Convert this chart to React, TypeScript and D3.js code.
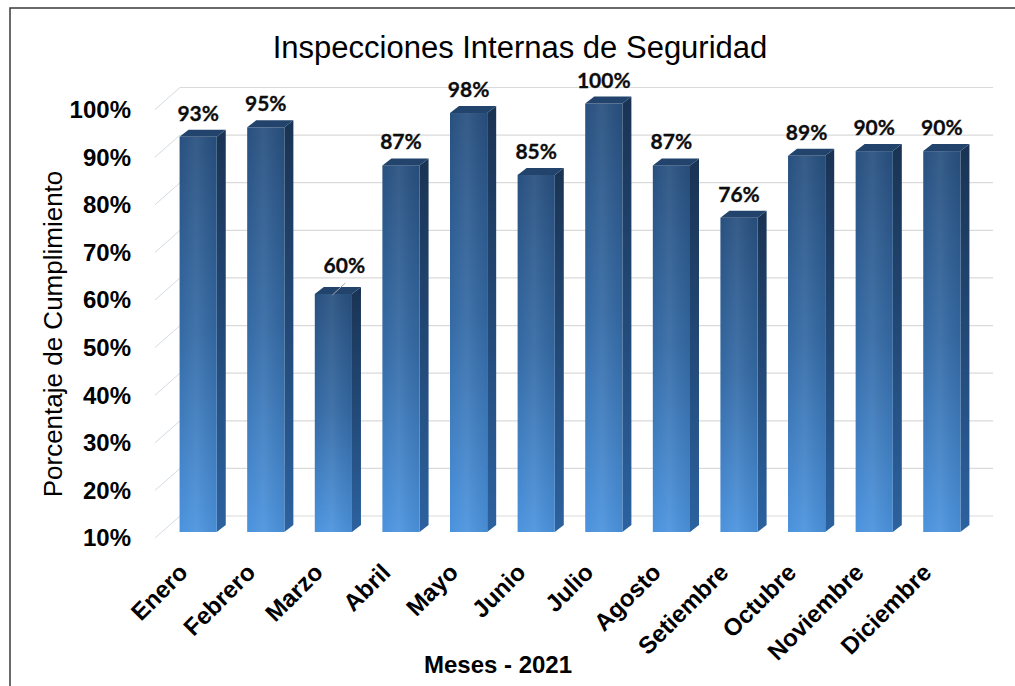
import React from "react";
import * as d3 from "d3";

const months = ["Enero","Febrero","Marzo","Abril","Mayo","Junio","Julio","Agosto","Setiembre","Octubre","Noviembre","Diciembre"];
const values = [93, 95, 60, 87, 98, 85, 100, 87, 76, 89, 90, 90];
const yTicks = [10, 20, 30, 40, 50, 60, 70, 80, 90, 100];
const leaderLabels = ["Marzo"];
const title = "Inspecciones Internas de Seguridad";
const yTitle = "Porcentaje de Cumplimiento";
const xTitle = "Meses - 2021";

const W = 1015, H = 686;
const ARIAL = "'Liberation Sans', Arial, sans-serif";
const BASE = 532;
const DX = 9, DY = -7;

export default function App() {
  const x = d3.scaleBand<string>().domain(months).range([162, 978]).paddingInner(0.45).paddingOuter(0.26);
  const y = d3.scaleLinear().domain([10, 100]).range([BASE, 103.5]);
  const bw = x.bandwidth();
  const fmt = (v: number) => `${v}%`;
  const gridFrontX = 155, gridBackX = 180, gridEndX = 993;

  return (
    <svg width={W} height={H} style={{ position: "absolute", left: 0, top: 0, background: "#fff" }}>
      <defs>
        <linearGradient id="front" x1="0" y1="0" x2="0" y2="1">
          <stop offset="0" stopColor="#28507f" />
          <stop offset="0.5" stopColor="#346aa5" />
          <stop offset="1" stopColor="#4b93de" />
        </linearGradient>
        <linearGradient id="shine" x1="0" y1="0" x2="1" y2="0">
          <stop offset="0" stopColor="#ffffff" stopOpacity="0" />
          <stop offset="0.45" stopColor="#ffffff" stopOpacity="0.07" />
          <stop offset="1" stopColor="#000000" stopOpacity="0.05" />
        </linearGradient>
        <linearGradient id="side" x1="0" y1="0" x2="0" y2="1">
          <stop offset="0" stopColor="#1a3353" />
          <stop offset="0.5" stopColor="#224977" />
          <stop offset="1" stopColor="#2c62a0" />
        </linearGradient>
      </defs>

      <path d={`M10,${H} V8 H${W}`} fill="none" stroke="#3a3a3a" strokeWidth={1.5} />

      {/* gridlines */}
      {yTicks.map((t) => (
        <g key={t}>
          <line x1={gridFrontX} y1={y(t) + 6} x2={gridBackX} y2={y(t) - 16} stroke="#d3dbe4" strokeWidth={1} />
          <line x1={gridBackX} y1={y(t) - 16} x2={gridEndX} y2={y(t) - 16} stroke="#dadada" strokeWidth={1.2} />
        </g>
      ))}

      {/* y tick labels */}
      {yTicks.map((t) => (
        <text key={t} x={131} y={y(t) + 6} dy="0.35em" textAnchor="end" fontFamily={ARIAL} fontWeight="bold" fontSize={24} fill="#000">
          {fmt(t)}
        </text>
      ))}

      {/* bars */}
      {months.map((m, i) => {
        const x0 = x(m)!;
        const yt = y(values[i]);
        const side = `${x0 + bw},${yt} ${x0 + bw + DX},${yt + DY} ${x0 + bw + DX},${BASE + DY} ${x0 + bw},${BASE}`;
        const top = `${x0},${yt} ${x0 + DX},${yt + DY} ${x0 + bw + DX},${yt + DY} ${x0 + bw},${yt}`;
        return (
          <g key={m}>
            <polygon points={side} fill="url(#side)" />
            <rect x={x0} y={yt} width={bw} height={BASE - yt} fill="url(#front)" />
            <rect x={x0} y={yt} width={bw} height={BASE - yt} fill="url(#shine)" />
            <polygon points={top} fill="#22436b" />
          </g>
        );
      })}

      {/* data labels */}
      {months.map((m, i) => {
        const cx = x(m)! + bw / 2;
        const yt = y(values[i]);
        const lead = leaderLabels.includes(m);
        const lx = cx + (lead ? 11 : 0);
        const ly = yt - 16 + (lead ? -5 : 0);
        return (
          <g key={m}>
            {lead && <line x1={lx + 1} y1={ly + 10} x2={cx - 1} y2={yt + 1} stroke="#a6a6a6" strokeWidth={1} />}
            <text x={lx} y={ly} textAnchor="middle" fontFamily="Lato, 'Open Sans', sans-serif" fontWeight="bold" fontSize={21} fill="#0d0d0d" stroke="#0d0d0d" strokeWidth={0.3}>
              {fmt(values[i])}
            </text>
          </g>
        );
      })}

      {/* x labels */}
      {months.map((m) => {
        const ax = x(m)! + bw / 2 - 9;
        const ay = 574;
        return (
          <text key={m} transform={`translate(${ax},${ay}) rotate(-45)`} textAnchor="end" fontFamily={ARIAL} fontWeight="bold" fontSize={24} fill="#000">
            {m}
          </text>
        );
      })}

      <text x={520} y={58} textAnchor="middle" fontFamily={ARIAL} fontSize={31} fill="#000">{title}</text>
      <text x={498} y={673} textAnchor="middle" fontFamily={ARIAL} fontWeight="bold" fontSize={24} fill="#000">{xTitle}</text>
      <text transform="translate(62,334) rotate(-90)" textAnchor="middle" fontFamily={ARIAL} fontSize={26} fill="#000">{yTitle}</text>
    </svg>
  );
}
